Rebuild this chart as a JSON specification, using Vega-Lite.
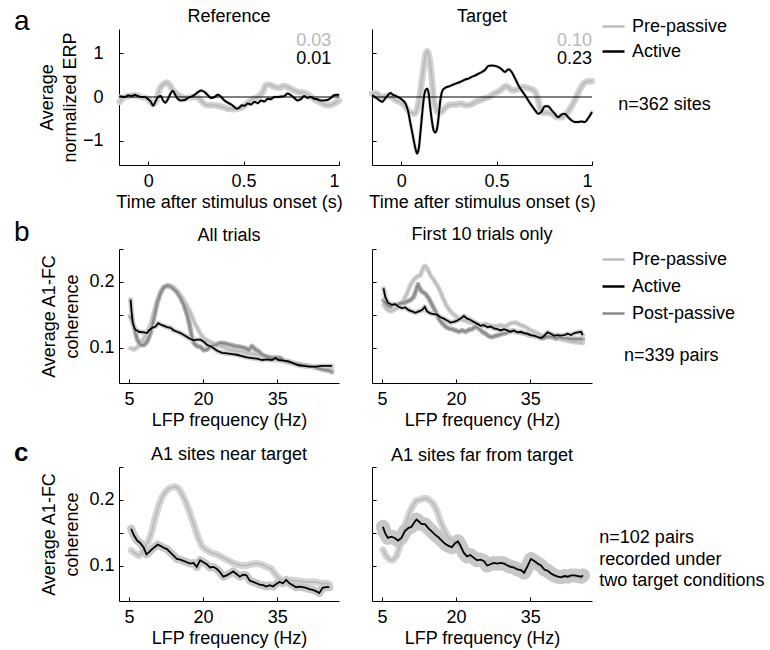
{
"$schema":"https://vega.github.io/schema/vega-lite/v6.json",
"padding":{"left":13,"top":7,"right":5,"bottom":2},
"bounds":"flush",
"columns":2,
"spacing":{"row":84,"column":33},
"resolve":{"scale":{"color":"independent"},"legend":{"color":"independent"}},
"config":{
 "font":"Liberation Sans",
 "view":{"stroke":null},
 "axis":{"grid":false,"domainColor":"#000","tickColor":"#000","labelColor":"#000","titleColor":"#000","labelFontSize":18,"titleFontSize":18,"titleFontWeight":"normal","tickSize":-4,"labelPadding":11,"titlePadding":3,"titleLineHeight":23,"domainWidth":1,"tickWidth":1},
 "title":{"fontSize":18,"fontWeight":"normal","color":"#000","offset":6,"baseline":"alphabetic","frame":"group"},
 "text":{"fontSize":18,"color":"#000"}
},
"datasets":{
"aRef":[
{"c":"Pre-passive","x":-0.150,"y":-0.11},{"c":"Pre-passive","x":-0.130,"y":-0.02},{"c":"Pre-passive","x":-0.104,"y":0.02},{"c":"Pre-passive","x":-0.070,"y":0.04},{"c":"Pre-passive","x":-0.035,"y":0},{"c":"Pre-passive","x":0,"y":-0.05},{"c":"Pre-passive","x":0.026,"y":-0.17},{"c":"Pre-passive","x":0.043,"y":-0.08},{"c":"Pre-passive","x":0.061,"y":0.19},{"c":"Pre-passive","x":0.078,"y":0.28},{"c":"Pre-passive","x":0.096,"y":0.33},{"c":"Pre-passive","x":0.113,"y":0.27},{"c":"Pre-passive","x":0.130,"y":0.15},{"c":"Pre-passive","x":0.148,"y":0.08},{"c":"Pre-passive","x":0.174,"y":0},{"c":"Pre-passive","x":0.200,"y":-0.02},{"c":"Pre-passive","x":0.226,"y":0},{"c":"Pre-passive","x":0.252,"y":0},{"c":"Pre-passive","x":0.270,"y":-0.05},{"c":"Pre-passive","x":0.287,"y":-0.13},{"c":"Pre-passive","x":0.313,"y":-0.19},{"c":"Pre-passive","x":0.339,"y":-0.19},{"c":"Pre-passive","x":0.365,"y":-0.2},{"c":"Pre-passive","x":0.391,"y":-0.23},{"c":"Pre-passive","x":0.417,"y":-0.27},{"c":"Pre-passive","x":0.443,"y":-0.28},{"c":"Pre-passive","x":0.470,"y":-0.27},{"c":"Pre-passive","x":0.496,"y":-0.23},{"c":"Pre-passive","x":0.522,"y":-0.13},{"c":"Pre-passive","x":0.548,"y":-0.05},{"c":"Pre-passive","x":0.574,"y":0},{"c":"Pre-passive","x":0.600,"y":0.11},{"c":"Pre-passive","x":0.617,"y":0.27},{"c":"Pre-passive","x":0.635,"y":0.28},{"c":"Pre-passive","x":0.661,"y":0.23},{"c":"Pre-passive","x":0.687,"y":0.21},{"c":"Pre-passive","x":0.713,"y":0.25},{"c":"Pre-passive","x":0.739,"y":0.21},{"c":"Pre-passive","x":0.765,"y":0.15},{"c":"Pre-passive","x":0.791,"y":0.11},{"c":"Pre-passive","x":0.817,"y":0.10},{"c":"Pre-passive","x":0.843,"y":0.04},{"c":"Pre-passive","x":0.870,"y":-0.05},{"c":"Pre-passive","x":0.896,"y":-0.11},{"c":"Pre-passive","x":0.922,"y":-0.17},{"c":"Pre-passive","x":0.948,"y":-0.19},{"c":"Pre-passive","x":0.974,"y":-0.15},{"c":"Pre-passive","x":1.0,"y":-0.08},
{"c":"Active","x":-0.150,"y":0.015},{"c":"Active","x":-0.122,"y":0},{"c":"Active","x":-0.104,"y":0.04},{"c":"Active","x":-0.087,"y":0.02},{"c":"Active","x":-0.070,"y":0.05},{"c":"Active","x":-0.052,"y":0.02},{"c":"Active","x":-0.035,"y":0},{"c":"Active","x":-0.017,"y":0},{"c":"Active","x":0,"y":-0.05},{"c":"Active","x":0.014,"y":-0.11},{"c":"Active","x":0.026,"y":-0.2},{"c":"Active","x":0.038,"y":-0.1},{"c":"Active","x":0.052,"y":0},{"c":"Active","x":0.066,"y":0.02},{"c":"Active","x":0.078,"y":-0.08},{"c":"Active","x":0.090,"y":-0.13},{"c":"Active","x":0.104,"y":-0.04},{"c":"Active","x":0.117,"y":0.08},{"c":"Active","x":0.129,"y":0.14},{"c":"Active","x":0.143,"y":0.04},{"c":"Active","x":0.157,"y":-0.05},{"c":"Active","x":0.174,"y":-0.08},{"c":"Active","x":0.191,"y":-0.07},{"c":"Active","x":0.209,"y":-0.02},{"c":"Active","x":0.226,"y":0.01},{"c":"Active","x":0.243,"y":0.05},{"c":"Active","x":0.261,"y":0.11},{"c":"Active","x":0.278,"y":0.15},{"c":"Active","x":0.296,"y":0.11},{"c":"Active","x":0.313,"y":0.04},{"c":"Active","x":0.330,"y":-0.02},{"c":"Active","x":0.348,"y":0},{"c":"Active","x":0.365,"y":0.05},{"c":"Active","x":0.383,"y":0},{"c":"Active","x":0.400,"y":-0.08},{"c":"Active","x":0.417,"y":-0.13},{"c":"Active","x":0.435,"y":-0.17},{"c":"Active","x":0.452,"y":-0.23},{"c":"Active","x":0.466,"y":-0.27},{"c":"Active","x":0.478,"y":-0.24},{"c":"Active","x":0.490,"y":-0.19},{"c":"Active","x":0.504,"y":-0.2},{"c":"Active","x":0.522,"y":-0.15},{"c":"Active","x":0.539,"y":-0.17},{"c":"Active","x":0.557,"y":-0.11},{"c":"Active","x":0.574,"y":-0.14},{"c":"Active","x":0.591,"y":-0.08},{"c":"Active","x":0.609,"y":-0.1},{"c":"Active","x":0.626,"y":-0.04},{"c":"Active","x":0.643,"y":-0.05},{"c":"Active","x":0.661,"y":0},{"c":"Active","x":0.678,"y":0},{"c":"Active","x":0.696,"y":0.01},{"c":"Active","x":0.713,"y":0.02},{"c":"Active","x":0.730,"y":0.08},{"c":"Active","x":0.748,"y":0.04},{"c":"Active","x":0.765,"y":-0.02},{"c":"Active","x":0.783,"y":-0.08},{"c":"Active","x":0.800,"y":-0.05},{"c":"Active","x":0.817,"y":0.02},{"c":"Active","x":0.835,"y":-0.02},{"c":"Active","x":0.852,"y":0},{"c":"Active","x":0.870,"y":-0.04},{"c":"Active","x":0.887,"y":-0.05},{"c":"Active","x":0.904,"y":-0.08},{"c":"Active","x":0.922,"y":-0.08},{"c":"Active","x":0.939,"y":-0.07},{"c":"Active","x":0.957,"y":-0.02},{"c":"Active","x":0.974,"y":0.04},{"c":"Active","x":0.991,"y":0.05},{"c":"Active","x":1.0,"y":0.04}
],
"aTgt":[
{"c":"Pre-passive","x":-0.153,"y":0.08},{"c":"Pre-passive","x":-0.130,"y":0.08},{"c":"Pre-passive","x":-0.104,"y":0},{"c":"Pre-passive","x":-0.078,"y":0.02},{"c":"Pre-passive","x":-0.052,"y":0},{"c":"Pre-passive","x":-0.026,"y":-0.08},{"c":"Pre-passive","x":0,"y":-0.13},{"c":"Pre-passive","x":0.017,"y":-0.19},{"c":"Pre-passive","x":0.035,"y":-0.3},{"c":"Pre-passive","x":0.052,"y":-0.36},{"c":"Pre-passive","x":0.070,"y":-0.38},{"c":"Pre-passive","x":0.082,"y":-0.3},{"c":"Pre-passive","x":0.092,"y":-0.11},{"c":"Pre-passive","x":0.104,"y":0.23},{"c":"Pre-passive","x":0.117,"y":0.65},{"c":"Pre-passive","x":0.127,"y":0.95},{"c":"Pre-passive","x":0.136,"y":1.04},{"c":"Pre-passive","x":0.144,"y":0.96},{"c":"Pre-passive","x":0.153,"y":0.72},{"c":"Pre-passive","x":0.162,"y":0.34},{"c":"Pre-passive","x":0.170,"y":-0.04},{"c":"Pre-passive","x":0.183,"y":-0.27},{"c":"Pre-passive","x":0.197,"y":-0.36},{"c":"Pre-passive","x":0.214,"y":-0.33},{"c":"Pre-passive","x":0.235,"y":-0.23},{"c":"Pre-passive","x":0.261,"y":-0.17},{"c":"Pre-passive","x":0.287,"y":-0.17},{"c":"Pre-passive","x":0.313,"y":-0.15},{"c":"Pre-passive","x":0.339,"y":-0.19},{"c":"Pre-passive","x":0.365,"y":-0.17},{"c":"Pre-passive","x":0.383,"y":-0.13},{"c":"Pre-passive","x":0.409,"y":-0.08},{"c":"Pre-passive","x":0.435,"y":-0.04},{"c":"Pre-passive","x":0.461,"y":0},{"c":"Pre-passive","x":0.487,"y":0.08},{"c":"Pre-passive","x":0.513,"y":0.13},{"c":"Pre-passive","x":0.530,"y":0.19},{"c":"Pre-passive","x":0.548,"y":0.25},{"c":"Pre-passive","x":0.565,"y":0.21},{"c":"Pre-passive","x":0.583,"y":0.15},{"c":"Pre-passive","x":0.609,"y":0.17},{"c":"Pre-passive","x":0.635,"y":0.23},{"c":"Pre-passive","x":0.661,"y":0.21},{"c":"Pre-passive","x":0.687,"y":0.17},{"c":"Pre-passive","x":0.704,"y":0.11},{"c":"Pre-passive","x":0.718,"y":-0.08},{"c":"Pre-passive","x":0.730,"y":-0.27},{"c":"Pre-passive","x":0.748,"y":-0.36},{"c":"Pre-passive","x":0.770,"y":-0.36},{"c":"Pre-passive","x":0.791,"y":-0.38},{"c":"Pre-passive","x":0.817,"y":-0.46},{"c":"Pre-passive","x":0.843,"y":-0.46},{"c":"Pre-passive","x":0.870,"y":-0.36},{"c":"Pre-passive","x":0.896,"y":-0.19},{"c":"Pre-passive","x":0.922,"y":0.04},{"c":"Pre-passive","x":0.944,"y":0.23},{"c":"Pre-passive","x":0.965,"y":0.34},{"c":"Pre-passive","x":0.983,"y":0.36},{"c":"Pre-passive","x":1.0,"y":0.36},
{"c":"Active","x":-0.153,"y":0.04},{"c":"Active","x":-0.130,"y":-0.02},{"c":"Active","x":-0.113,"y":-0.08},{"c":"Active","x":-0.099,"y":-0.11},{"c":"Active","x":-0.087,"y":-0.05},{"c":"Active","x":-0.070,"y":0.04},{"c":"Active","x":-0.057,"y":0.09},{"c":"Active","x":-0.043,"y":0.05},{"c":"Active","x":-0.026,"y":0.02},{"c":"Active","x":-0.009,"y":-0.02},{"c":"Active","x":0.009,"y":-0.08},{"c":"Active","x":0.023,"y":-0.15},{"c":"Active","x":0.035,"y":-0.3},{"c":"Active","x":0.047,"y":-0.57},{"c":"Active","x":0.061,"y":-0.88},{"c":"Active","x":0.075,"y":-1.18},{"c":"Active","x":0.083,"y":-1.29},{"c":"Active","x":0.092,"y":-1.18},{"c":"Active","x":0.101,"y":-0.8},{"c":"Active","x":0.110,"y":-0.38},{"c":"Active","x":0.118,"y":-0.04},{"c":"Active","x":0.127,"y":0.15},{"c":"Active","x":0.136,"y":0.19},{"c":"Active","x":0.144,"y":0.08},{"c":"Active","x":0.153,"y":-0.27},{"c":"Active","x":0.162,"y":-0.57},{"c":"Active","x":0.170,"y":-0.76},{"c":"Active","x":0.179,"y":-0.81},{"c":"Active","x":0.188,"y":-0.72},{"c":"Active","x":0.197,"y":-0.42},{"c":"Active","x":0.205,"y":-0.08},{"c":"Active","x":0.217,"y":0.15},{"c":"Active","x":0.231,"y":0.21},{"c":"Active","x":0.249,"y":0.24},{"c":"Active","x":0.266,"y":0.27},{"c":"Active","x":0.283,"y":0.30},{"c":"Active","x":0.301,"y":0.33},{"c":"Active","x":0.318,"y":0.36},{"c":"Active","x":0.336,"y":0.40},{"c":"Active","x":0.353,"y":0.42},{"c":"Active","x":0.370,"y":0.46},{"c":"Active","x":0.388,"y":0.49},{"c":"Active","x":0.405,"y":0.53},{"c":"Active","x":0.423,"y":0.57},{"c":"Active","x":0.440,"y":0.62},{"c":"Active","x":0.457,"y":0.71},{"c":"Active","x":0.475,"y":0.72},{"c":"Active","x":0.492,"y":0.71},{"c":"Active","x":0.510,"y":0.68},{"c":"Active","x":0.527,"y":0.63},{"c":"Active","x":0.544,"y":0.57},{"c":"Active","x":0.562,"y":0.63},{"c":"Active","x":0.579,"y":0.57},{"c":"Active","x":0.597,"y":0.42},{"c":"Active","x":0.614,"y":0.27},{"c":"Active","x":0.631,"y":0.15},{"c":"Active","x":0.649,"y":0.04},{"c":"Active","x":0.666,"y":-0.08},{"c":"Active","x":0.683,"y":-0.19},{"c":"Active","x":0.701,"y":-0.3},{"c":"Active","x":0.718,"y":-0.38},{"c":"Active","x":0.736,"y":-0.33},{"c":"Active","x":0.753,"y":-0.21},{"c":"Active","x":0.770,"y":-0.21},{"c":"Active","x":0.788,"y":-0.3},{"c":"Active","x":0.805,"y":-0.38},{"c":"Active","x":0.823,"y":-0.46},{"c":"Active","x":0.840,"y":-0.4},{"c":"Active","x":0.857,"y":-0.38},{"c":"Active","x":0.875,"y":-0.46},{"c":"Active","x":0.892,"y":-0.53},{"c":"Active","x":0.910,"y":-0.57},{"c":"Active","x":0.927,"y":-0.57},{"c":"Active","x":0.944,"y":-0.56},{"c":"Active","x":0.962,"y":-0.57},{"c":"Active","x":0.979,"y":-0.49},{"c":"Active","x":1.0,"y":-0.34}
],
"bAll":[
{"c":"Pre-passive","x":5.34,"y":0.099},{"c":"Pre-passive","x":6.01,"y":0.097},{"c":"Pre-passive","x":6.68,"y":0.100},{"c":"Pre-passive","x":7.36,"y":0.107},{"c":"Pre-passive","x":8.03,"y":0.114},{"c":"Pre-passive","x":8.70,"y":0.123},{"c":"Pre-passive","x":9.38,"y":0.135},{"c":"Pre-passive","x":10.05,"y":0.153},{"c":"Pre-passive","x":10.72,"y":0.170},{"c":"Pre-passive","x":11.40,"y":0.184},{"c":"Pre-passive","x":12.07,"y":0.192},{"c":"Pre-passive","x":12.74,"y":0.195},{"c":"Pre-passive","x":13.42,"y":0.194},{"c":"Pre-passive","x":14.09,"y":0.191},{"c":"Pre-passive","x":14.76,"y":0.186},{"c":"Pre-passive","x":15.44,"y":0.179},{"c":"Pre-passive","x":16.11,"y":0.172},{"c":"Pre-passive","x":16.78,"y":0.163},{"c":"Pre-passive","x":17.46,"y":0.153},{"c":"Pre-passive","x":18.13,"y":0.140},{"c":"Pre-passive","x":18.80,"y":0.130},{"c":"Pre-passive","x":19.48,"y":0.121},{"c":"Pre-passive","x":20.15,"y":0.114},{"c":"Pre-passive","x":20.82,"y":0.111},{"c":"Pre-passive","x":21.84,"y":0.107},{"c":"Pre-passive","x":22.85,"y":0.104},{"c":"Pre-passive","x":23.86,"y":0.102},{"c":"Pre-passive","x":25.20,"y":0.097},{"c":"Pre-passive","x":26.55,"y":0.095},{"c":"Pre-passive","x":27.90,"y":0.094},{"c":"Pre-passive","x":29.24,"y":0.091},{"c":"Pre-passive","x":30.59,"y":0.090},{"c":"Pre-passive","x":31.94,"y":0.087},{"c":"Pre-passive","x":33.28,"y":0.084},{"c":"Pre-passive","x":34.63,"y":0.081},{"c":"Pre-passive","x":35.98,"y":0.080},{"c":"Pre-passive","x":37.32,"y":0.079},{"c":"Pre-passive","x":38.67,"y":0.076},{"c":"Pre-passive","x":40.02,"y":0.074},{"c":"Pre-passive","x":41.36,"y":0.072},{"c":"Pre-passive","x":42.71,"y":0.070},{"c":"Pre-passive","x":44.06,"y":0.068},{"c":"Pre-passive","x":46.08,"y":0.066},
{"c":"Post-passive","x":5.34,"y":0.148},{"c":"Post-passive","x":6.01,"y":0.132},{"c":"Post-passive","x":6.68,"y":0.112},{"c":"Post-passive","x":7.36,"y":0.104},{"c":"Post-passive","x":8.03,"y":0.104},{"c":"Post-passive","x":8.70,"y":0.109},{"c":"Post-passive","x":9.38,"y":0.122},{"c":"Post-passive","x":10.05,"y":0.145},{"c":"Post-passive","x":10.72,"y":0.168},{"c":"Post-passive","x":11.40,"y":0.183},{"c":"Post-passive","x":12.07,"y":0.192},{"c":"Post-passive","x":12.74,"y":0.194},{"c":"Post-passive","x":13.42,"y":0.193},{"c":"Post-passive","x":14.09,"y":0.189},{"c":"Post-passive","x":14.76,"y":0.184},{"c":"Post-passive","x":15.44,"y":0.176},{"c":"Post-passive","x":16.11,"y":0.165},{"c":"Post-passive","x":16.78,"y":0.150},{"c":"Post-passive","x":17.26,"y":0.135},{"c":"Post-passive","x":17.66,"y":0.119},{"c":"Post-passive","x":18.13,"y":0.107},{"c":"Post-passive","x":18.80,"y":0.102},{"c":"Post-passive","x":19.48,"y":0.101},{"c":"Post-passive","x":20.15,"y":0.096},{"c":"Post-passive","x":20.82,"y":0.097},{"c":"Post-passive","x":21.50,"y":0.102},{"c":"Post-passive","x":22.51,"y":0.104},{"c":"Post-passive","x":23.52,"y":0.107},{"c":"Post-passive","x":24.53,"y":0.106},{"c":"Post-passive","x":25.54,"y":0.104},{"c":"Post-passive","x":26.55,"y":0.102},{"c":"Post-passive","x":27.56,"y":0.101},{"c":"Post-passive","x":28.57,"y":0.099},{"c":"Post-passive","x":29.24,"y":0.096},{"c":"Post-passive","x":29.92,"y":0.102},{"c":"Post-passive","x":30.59,"y":0.097},{"c":"Post-passive","x":31.26,"y":0.094},{"c":"Post-passive","x":31.94,"y":0.089},{"c":"Post-passive","x":32.95,"y":0.086},{"c":"Post-passive","x":33.96,"y":0.084},{"c":"Post-passive","x":34.63,"y":0.085},{"c":"Post-passive","x":35.64,"y":0.084},{"c":"Post-passive","x":36.65,"y":0.079},{"c":"Post-passive","x":37.66,"y":0.077},{"c":"Post-passive","x":38.67,"y":0.075},{"c":"Post-passive","x":40.02,"y":0.073},{"c":"Post-passive","x":41.36,"y":0.072},{"c":"Post-passive","x":42.71,"y":0.070},{"c":"Post-passive","x":44.06,"y":0.067},{"c":"Post-passive","x":45.40,"y":0.065},{"c":"Post-passive","x":46.08,"y":0.063},
{"c":"Active","x":5.34,"y":0.173},{"c":"Active","x":5.54,"y":0.155},{"c":"Active","x":5.81,"y":0.137},{"c":"Active","x":6.21,"y":0.128},{"c":"Active","x":7.02,"y":0.124},{"c":"Active","x":8.03,"y":0.123},{"c":"Active","x":8.70,"y":0.122},{"c":"Active","x":9.04,"y":0.126},{"c":"Active","x":9.71,"y":0.130},{"c":"Active","x":10.39,"y":0.132},{"c":"Active","x":10.93,"y":0.137},{"c":"Active","x":11.40,"y":0.135},{"c":"Active","x":12.07,"y":0.133},{"c":"Active","x":12.74,"y":0.131},{"c":"Active","x":13.42,"y":0.130},{"c":"Active","x":14.09,"y":0.126},{"c":"Active","x":14.76,"y":0.124},{"c":"Active","x":15.44,"y":0.122},{"c":"Active","x":16.11,"y":0.119},{"c":"Active","x":16.78,"y":0.116},{"c":"Active","x":17.46,"y":0.113},{"c":"Active","x":18.13,"y":0.111},{"c":"Active","x":18.80,"y":0.112},{"c":"Active","x":19.48,"y":0.112},{"c":"Active","x":20.15,"y":0.109},{"c":"Active","x":20.82,"y":0.104},{"c":"Active","x":21.50,"y":0.102},{"c":"Active","x":22.17,"y":0.099},{"c":"Active","x":22.85,"y":0.095},{"c":"Active","x":23.86,"y":0.092},{"c":"Active","x":24.87,"y":0.091},{"c":"Active","x":25.88,"y":0.090},{"c":"Active","x":26.89,"y":0.089},{"c":"Active","x":27.90,"y":0.087},{"c":"Active","x":28.91,"y":0.085},{"c":"Active","x":29.92,"y":0.084},{"c":"Active","x":30.93,"y":0.083},{"c":"Active","x":31.94,"y":0.081},{"c":"Active","x":32.95,"y":0.082},{"c":"Active","x":33.96,"y":0.081},{"c":"Active","x":34.63,"y":0.084},{"c":"Active","x":35.30,"y":0.081},{"c":"Active","x":36.31,"y":0.080},{"c":"Active","x":37.32,"y":0.079},{"c":"Active","x":38.33,"y":0.076},{"c":"Active","x":39.34,"y":0.073},{"c":"Active","x":40.35,"y":0.072},{"c":"Active","x":41.36,"y":0.071},{"c":"Active","x":42.71,"y":0.071},{"c":"Active","x":44.06,"y":0.072},{"c":"Active","x":46.08,"y":0.072}
],
"bFirst":[
{"c":"Pre-passive","x":5.34,"y":0.165},{"c":"Pre-passive","x":6.02,"y":0.158},{"c":"Pre-passive","x":6.69,"y":0.155},{"c":"Pre-passive","x":7.37,"y":0.157},{"c":"Pre-passive","x":8.05,"y":0.160},{"c":"Pre-passive","x":8.72,"y":0.165},{"c":"Pre-passive","x":9.40,"y":0.172},{"c":"Pre-passive","x":10.08,"y":0.182},{"c":"Pre-passive","x":10.75,"y":0.195},{"c":"Pre-passive","x":11.43,"y":0.203},{"c":"Pre-passive","x":12.11,"y":0.208},{"c":"Pre-passive","x":12.79,"y":0.210},{"c":"Pre-passive","x":13.46,"y":0.223},{"c":"Pre-passive","x":13.80,"y":0.224},{"c":"Pre-passive","x":14.34,"y":0.218},{"c":"Pre-passive","x":14.82,"y":0.210},{"c":"Pre-passive","x":15.49,"y":0.203},{"c":"Pre-passive","x":16.17,"y":0.195},{"c":"Pre-passive","x":16.85,"y":0.185},{"c":"Pre-passive","x":17.53,"y":0.172},{"c":"Pre-passive","x":18.20,"y":0.162},{"c":"Pre-passive","x":18.88,"y":0.155},{"c":"Pre-passive","x":19.56,"y":0.150},{"c":"Pre-passive","x":20.23,"y":0.146},{"c":"Pre-passive","x":20.91,"y":0.143},{"c":"Pre-passive","x":21.93,"y":0.141},{"c":"Pre-passive","x":22.94,"y":0.138},{"c":"Pre-passive","x":23.96,"y":0.137},{"c":"Pre-passive","x":24.97,"y":0.134},{"c":"Pre-passive","x":25.99,"y":0.136},{"c":"Pre-passive","x":27.00,"y":0.133},{"c":"Pre-passive","x":28.02,"y":0.132},{"c":"Pre-passive","x":29.04,"y":0.134},{"c":"Pre-passive","x":30.05,"y":0.132},{"c":"Pre-passive","x":31.07,"y":0.137},{"c":"Pre-passive","x":32.08,"y":0.138},{"c":"Pre-passive","x":33.10,"y":0.134},{"c":"Pre-passive","x":34.11,"y":0.131},{"c":"Pre-passive","x":35.13,"y":0.126},{"c":"Pre-passive","x":36.14,"y":0.123},{"c":"Pre-passive","x":37.16,"y":0.119},{"c":"Pre-passive","x":38.18,"y":0.117},{"c":"Pre-passive","x":39.19,"y":0.116},{"c":"Pre-passive","x":40.21,"y":0.114},{"c":"Pre-passive","x":41.22,"y":0.113},{"c":"Pre-passive","x":42.24,"y":0.111},{"c":"Pre-passive","x":43.25,"y":0.109},{"c":"Pre-passive","x":44.27,"y":0.108},{"c":"Pre-passive","x":45.62,"y":0.107},
{"c":"Post-passive","x":5.34,"y":0.172},{"c":"Post-passive","x":6.02,"y":0.165},{"c":"Post-passive","x":6.69,"y":0.162},{"c":"Post-passive","x":7.37,"y":0.166},{"c":"Post-passive","x":8.05,"y":0.165},{"c":"Post-passive","x":8.72,"y":0.167},{"c":"Post-passive","x":9.40,"y":0.168},{"c":"Post-passive","x":10.08,"y":0.170},{"c":"Post-passive","x":10.75,"y":0.172},{"c":"Post-passive","x":11.43,"y":0.177},{"c":"Post-passive","x":11.91,"y":0.187},{"c":"Post-passive","x":12.31,"y":0.196},{"c":"Post-passive","x":12.65,"y":0.190},{"c":"Post-passive","x":13.12,"y":0.185},{"c":"Post-passive","x":13.80,"y":0.182},{"c":"Post-passive","x":14.48,"y":0.175},{"c":"Post-passive","x":15.16,"y":0.165},{"c":"Post-passive","x":15.83,"y":0.155},{"c":"Post-passive","x":16.51,"y":0.144},{"c":"Post-passive","x":17.19,"y":0.137},{"c":"Post-passive","x":17.86,"y":0.132},{"c":"Post-passive","x":18.54,"y":0.129},{"c":"Post-passive","x":19.22,"y":0.128},{"c":"Post-passive","x":19.90,"y":0.126},{"c":"Post-passive","x":20.57,"y":0.124},{"c":"Post-passive","x":21.25,"y":0.126},{"c":"Post-passive","x":21.93,"y":0.124},{"c":"Post-passive","x":22.60,"y":0.127},{"c":"Post-passive","x":23.28,"y":0.128},{"c":"Post-passive","x":23.96,"y":0.132},{"c":"Post-passive","x":24.63,"y":0.129},{"c":"Post-passive","x":25.31,"y":0.124},{"c":"Post-passive","x":25.99,"y":0.121},{"c":"Post-passive","x":26.67,"y":0.117},{"c":"Post-passive","x":27.34,"y":0.116},{"c":"Post-passive","x":28.02,"y":0.118},{"c":"Post-passive","x":28.70,"y":0.119},{"c":"Post-passive","x":29.37,"y":0.121},{"c":"Post-passive","x":30.05,"y":0.122},{"c":"Post-passive","x":30.73,"y":0.124},{"c":"Post-passive","x":31.40,"y":0.126},{"c":"Post-passive","x":32.08,"y":0.124},{"c":"Post-passive","x":32.76,"y":0.123},{"c":"Post-passive","x":33.44,"y":0.122},{"c":"Post-passive","x":34.11,"y":0.121},{"c":"Post-passive","x":34.79,"y":0.119},{"c":"Post-passive","x":35.47,"y":0.118},{"c":"Post-passive","x":36.14,"y":0.117},{"c":"Post-passive","x":36.82,"y":0.116},{"c":"Post-passive","x":37.50,"y":0.114},{"c":"Post-passive","x":38.18,"y":0.116},{"c":"Post-passive","x":38.85,"y":0.117},{"c":"Post-passive","x":39.53,"y":0.116},{"c":"Post-passive","x":40.21,"y":0.114},{"c":"Post-passive","x":40.88,"y":0.116},{"c":"Post-passive","x":41.56,"y":0.114},{"c":"Post-passive","x":42.24,"y":0.114},{"c":"Post-passive","x":43.25,"y":0.113},{"c":"Post-passive","x":44.27,"y":0.113},{"c":"Post-passive","x":45.62,"y":0.113},
{"c":"Active","x":5.34,"y":0.190},{"c":"Active","x":5.68,"y":0.177},{"c":"Active","x":6.22,"y":0.168},{"c":"Active","x":7.03,"y":0.165},{"c":"Active","x":7.71,"y":0.166},{"c":"Active","x":8.39,"y":0.162},{"c":"Active","x":9.06,"y":0.160},{"c":"Active","x":9.74,"y":0.161},{"c":"Active","x":10.42,"y":0.157},{"c":"Active","x":11.09,"y":0.155},{"c":"Active","x":11.77,"y":0.153},{"c":"Active","x":12.45,"y":0.155},{"c":"Active","x":13.12,"y":0.157},{"c":"Active","x":13.67,"y":0.162},{"c":"Active","x":14.14,"y":0.155},{"c":"Active","x":14.82,"y":0.152},{"c":"Active","x":15.49,"y":0.151},{"c":"Active","x":16.17,"y":0.150},{"c":"Active","x":16.85,"y":0.146},{"c":"Active","x":17.53,"y":0.144},{"c":"Active","x":18.20,"y":0.141},{"c":"Active","x":18.88,"y":0.138},{"c":"Active","x":19.56,"y":0.139},{"c":"Active","x":20.23,"y":0.141},{"c":"Active","x":20.91,"y":0.144},{"c":"Active","x":21.59,"y":0.148},{"c":"Active","x":22.26,"y":0.144},{"c":"Active","x":22.94,"y":0.142},{"c":"Active","x":23.62,"y":0.139},{"c":"Active","x":24.30,"y":0.136},{"c":"Active","x":24.97,"y":0.133},{"c":"Active","x":25.65,"y":0.134},{"c":"Active","x":26.33,"y":0.131},{"c":"Active","x":27.00,"y":0.132},{"c":"Active","x":27.68,"y":0.129},{"c":"Active","x":28.36,"y":0.128},{"c":"Active","x":29.04,"y":0.126},{"c":"Active","x":29.71,"y":0.128},{"c":"Active","x":30.39,"y":0.126},{"c":"Active","x":31.07,"y":0.124},{"c":"Active","x":31.74,"y":0.126},{"c":"Active","x":32.42,"y":0.123},{"c":"Active","x":33.10,"y":0.124},{"c":"Active","x":33.77,"y":0.122},{"c":"Active","x":34.45,"y":0.121},{"c":"Active","x":35.13,"y":0.119},{"c":"Active","x":35.81,"y":0.118},{"c":"Active","x":36.48,"y":0.116},{"c":"Active","x":37.16,"y":0.114},{"c":"Active","x":37.84,"y":0.118},{"c":"Active","x":38.51,"y":0.123},{"c":"Active","x":39.19,"y":0.121},{"c":"Active","x":39.87,"y":0.118},{"c":"Active","x":40.55,"y":0.119},{"c":"Active","x":41.22,"y":0.118},{"c":"Active","x":41.90,"y":0.119},{"c":"Active","x":42.58,"y":0.121},{"c":"Active","x":43.25,"y":0.119},{"c":"Active","x":43.93,"y":0.122},{"c":"Active","x":44.61,"y":0.123},{"c":"Active","x":45.29,"y":0.124},{"c":"Active","x":45.62,"y":0.119}
],
"cNear":[
{"c":"Pre-passive","x":5.47,"y":0.123},{"c":"Pre-passive","x":6.34,"y":0.118},{"c":"Pre-passive","x":7.01,"y":0.115},{"c":"Pre-passive","x":7.68,"y":0.120},{"c":"Pre-passive","x":8.35,"y":0.129},{"c":"Pre-passive","x":9.02,"y":0.138},{"c":"Pre-passive","x":9.69,"y":0.153},{"c":"Pre-passive","x":10.36,"y":0.174},{"c":"Pre-passive","x":11.03,"y":0.191},{"c":"Pre-passive","x":11.70,"y":0.204},{"c":"Pre-passive","x":12.37,"y":0.212},{"c":"Pre-passive","x":13.04,"y":0.217},{"c":"Pre-passive","x":13.71,"y":0.219},{"c":"Pre-passive","x":14.38,"y":0.220},{"c":"Pre-passive","x":15.05,"y":0.217},{"c":"Pre-passive","x":15.72,"y":0.209},{"c":"Pre-passive","x":16.39,"y":0.199},{"c":"Pre-passive","x":17.06,"y":0.186},{"c":"Pre-passive","x":17.73,"y":0.171},{"c":"Pre-passive","x":18.40,"y":0.156},{"c":"Pre-passive","x":19.07,"y":0.141},{"c":"Pre-passive","x":19.74,"y":0.130},{"c":"Pre-passive","x":20.41,"y":0.125},{"c":"Pre-passive","x":21.08,"y":0.122},{"c":"Pre-passive","x":21.74,"y":0.119},{"c":"Pre-passive","x":22.75,"y":0.117},{"c":"Pre-passive","x":23.75,"y":0.113},{"c":"Pre-passive","x":24.76,"y":0.109},{"c":"Pre-passive","x":25.76,"y":0.105},{"c":"Pre-passive","x":26.77,"y":0.102},{"c":"Pre-passive","x":27.77,"y":0.100},{"c":"Pre-passive","x":28.78,"y":0.100},{"c":"Pre-passive","x":29.78,"y":0.102},{"c":"Pre-passive","x":30.79,"y":0.103},{"c":"Pre-passive","x":31.79,"y":0.102},{"c":"Pre-passive","x":32.80,"y":0.098},{"c":"Pre-passive","x":33.80,"y":0.095},{"c":"Pre-passive","x":34.47,"y":0.088},{"c":"Pre-passive","x":35.14,"y":0.082},{"c":"Pre-passive","x":35.81,"y":0.078},{"c":"Pre-passive","x":36.82,"y":0.077},{"c":"Pre-passive","x":37.82,"y":0.078},{"c":"Pre-passive","x":38.82,"y":0.077},{"c":"Pre-passive","x":39.83,"y":0.076},{"c":"Pre-passive","x":40.83,"y":0.075},{"c":"Pre-passive","x":41.84,"y":0.075},{"c":"Pre-passive","x":42.84,"y":0.075},{"c":"Pre-passive","x":43.85,"y":0.073},{"c":"Pre-passive","x":44.85,"y":0.073},{"c":"Pre-passive","x":45.52,"y":0.072},
{"c":"Active","x":5.47,"y":0.156},{"c":"Active","x":6.00,"y":0.146},{"c":"Active","x":6.67,"y":0.138},{"c":"Active","x":7.34,"y":0.134},{"c":"Active","x":8.01,"y":0.127},{"c":"Active","x":8.55,"y":0.117},{"c":"Active","x":9.02,"y":0.120},{"c":"Active","x":9.69,"y":0.125},{"c":"Active","x":10.36,"y":0.129},{"c":"Active","x":10.83,"y":0.132},{"c":"Active","x":11.36,"y":0.130},{"c":"Active","x":12.03,"y":0.127},{"c":"Active","x":12.70,"y":0.125},{"c":"Active","x":13.37,"y":0.120},{"c":"Active","x":14.04,"y":0.115},{"c":"Active","x":14.71,"y":0.110},{"c":"Active","x":15.38,"y":0.109},{"c":"Active","x":16.05,"y":0.107},{"c":"Active","x":16.72,"y":0.105},{"c":"Active","x":17.39,"y":0.103},{"c":"Active","x":18.06,"y":0.104},{"c":"Active","x":18.73,"y":0.098},{"c":"Active","x":19.40,"y":0.108},{"c":"Active","x":20.07,"y":0.105},{"c":"Active","x":20.74,"y":0.102},{"c":"Active","x":21.41,"y":0.097},{"c":"Active","x":22.08,"y":0.098},{"c":"Active","x":22.75,"y":0.095},{"c":"Active","x":23.42,"y":0.090},{"c":"Active","x":24.09,"y":0.083},{"c":"Active","x":24.76,"y":0.085},{"c":"Active","x":25.43,"y":0.088},{"c":"Active","x":26.10,"y":0.091},{"c":"Active","x":26.77,"y":0.087},{"c":"Active","x":27.44,"y":0.083},{"c":"Active","x":28.11,"y":0.086},{"c":"Active","x":28.78,"y":0.085},{"c":"Active","x":29.45,"y":0.077},{"c":"Active","x":30.12,"y":0.075},{"c":"Active","x":30.79,"y":0.073},{"c":"Active","x":31.46,"y":0.071},{"c":"Active","x":32.13,"y":0.070},{"c":"Active","x":32.80,"y":0.068},{"c":"Active","x":33.47,"y":0.070},{"c":"Active","x":34.14,"y":0.068},{"c":"Active","x":34.81,"y":0.072},{"c":"Active","x":35.48,"y":0.075},{"c":"Active","x":36.15,"y":0.073},{"c":"Active","x":36.82,"y":0.078},{"c":"Active","x":37.48,"y":0.073},{"c":"Active","x":38.15,"y":0.070},{"c":"Active","x":38.82,"y":0.067},{"c":"Active","x":39.49,"y":0.068},{"c":"Active","x":40.16,"y":0.067},{"c":"Active","x":40.83,"y":0.066},{"c":"Active","x":41.50,"y":0.064},{"c":"Active","x":42.17,"y":0.063},{"c":"Active","x":42.84,"y":0.061},{"c":"Active","x":43.51,"y":0.058},{"c":"Active","x":44.18,"y":0.066},{"c":"Active","x":44.85,"y":0.067},{"c":"Active","x":45.52,"y":0.067}
],
"cFar":[
{"c":"Pre-passive","x":5.20,"y":0.124},{"c":"Pre-passive","x":5.88,"y":0.114},{"c":"Pre-passive","x":6.56,"y":0.109},{"c":"Pre-passive","x":7.24,"y":0.108},{"c":"Pre-passive","x":7.93,"y":0.114},{"c":"Pre-passive","x":8.61,"y":0.129},{"c":"Pre-passive","x":9.29,"y":0.149},{"c":"Pre-passive","x":9.97,"y":0.167},{"c":"Pre-passive","x":10.65,"y":0.182},{"c":"Pre-passive","x":11.33,"y":0.192},{"c":"Pre-passive","x":12.01,"y":0.199},{"c":"Pre-passive","x":12.69,"y":0.200},{"c":"Pre-passive","x":13.37,"y":0.202},{"c":"Pre-passive","x":14.05,"y":0.202},{"c":"Pre-passive","x":14.73,"y":0.199},{"c":"Pre-passive","x":15.41,"y":0.194},{"c":"Pre-passive","x":16.09,"y":0.184},{"c":"Pre-passive","x":16.77,"y":0.169},{"c":"Pre-passive","x":17.45,"y":0.157},{"c":"Pre-passive","x":18.13,"y":0.147},{"c":"Pre-passive","x":18.81,"y":0.140},{"c":"Pre-passive","x":19.49,"y":0.137},{"c":"Pre-passive","x":20.17,"y":0.132},{"c":"Pre-passive","x":20.85,"y":0.125},{"c":"Pre-passive","x":21.53,"y":0.119},{"c":"Pre-passive","x":22.55,"y":0.113},{"c":"Pre-passive","x":23.57,"y":0.110},{"c":"Pre-passive","x":24.59,"y":0.109},{"c":"Pre-passive","x":25.61,"y":0.107},{"c":"Pre-passive","x":26.63,"y":0.107},{"c":"Pre-passive","x":27.65,"y":0.105},{"c":"Pre-passive","x":28.67,"y":0.104},{"c":"Pre-passive","x":29.69,"y":0.104},{"c":"Pre-passive","x":30.71,"y":0.102},{"c":"Pre-passive","x":31.73,"y":0.099},{"c":"Pre-passive","x":32.76,"y":0.097},{"c":"Pre-passive","x":33.78,"y":0.094},{"c":"Pre-passive","x":34.80,"y":0.099},{"c":"Pre-passive","x":35.48,"y":0.103},{"c":"Pre-passive","x":36.50,"y":0.100},{"c":"Pre-passive","x":37.52,"y":0.095},{"c":"Pre-passive","x":38.54,"y":0.090},{"c":"Pre-passive","x":39.56,"y":0.087},{"c":"Pre-passive","x":40.58,"y":0.084},{"c":"Pre-passive","x":41.60,"y":0.083},{"c":"Pre-passive","x":42.62,"y":0.083},{"c":"Pre-passive","x":43.64,"y":0.082},{"c":"Pre-passive","x":44.66,"y":0.082},{"c":"Pre-passive","x":45.68,"y":0.080},
{"c":"Active","x":5.20,"y":0.159},{"c":"Active","x":5.68,"y":0.149},{"c":"Active","x":6.22,"y":0.142},{"c":"Active","x":6.90,"y":0.144},{"c":"Active","x":7.59,"y":0.142},{"c":"Active","x":8.27,"y":0.138},{"c":"Active","x":8.95,"y":0.142},{"c":"Active","x":9.63,"y":0.152},{"c":"Active","x":10.31,"y":0.157},{"c":"Active","x":10.99,"y":0.159},{"c":"Active","x":11.67,"y":0.167},{"c":"Active","x":12.01,"y":0.170},{"c":"Active","x":12.48,"y":0.167},{"c":"Active","x":13.03,"y":0.163},{"c":"Active","x":13.71,"y":0.163},{"c":"Active","x":14.39,"y":0.157},{"c":"Active","x":15.07,"y":0.152},{"c":"Active","x":15.75,"y":0.147},{"c":"Active","x":16.43,"y":0.143},{"c":"Active","x":17.11,"y":0.138},{"c":"Active","x":17.79,"y":0.133},{"c":"Active","x":18.47,"y":0.130},{"c":"Active","x":19.15,"y":0.128},{"c":"Active","x":19.83,"y":0.134},{"c":"Active","x":20.37,"y":0.137},{"c":"Active","x":20.85,"y":0.131},{"c":"Active","x":21.53,"y":0.120},{"c":"Active","x":22.21,"y":0.114},{"c":"Active","x":22.89,"y":0.116},{"c":"Active","x":23.57,"y":0.112},{"c":"Active","x":24.25,"y":0.108},{"c":"Active","x":24.93,"y":0.109},{"c":"Active","x":25.61,"y":0.107},{"c":"Active","x":26.29,"y":0.100},{"c":"Active","x":26.97,"y":0.102},{"c":"Active","x":27.65,"y":0.104},{"c":"Active","x":28.33,"y":0.103},{"c":"Active","x":29.01,"y":0.104},{"c":"Active","x":29.69,"y":0.103},{"c":"Active","x":30.37,"y":0.100},{"c":"Active","x":31.05,"y":0.098},{"c":"Active","x":31.73,"y":0.097},{"c":"Active","x":32.41,"y":0.094},{"c":"Active","x":33.10,"y":0.093},{"c":"Active","x":33.78,"y":0.089},{"c":"Active","x":34.46,"y":0.099},{"c":"Active","x":35.14,"y":0.110},{"c":"Active","x":35.82,"y":0.107},{"c":"Active","x":36.50,"y":0.103},{"c":"Active","x":37.18,"y":0.100},{"c":"Active","x":37.86,"y":0.094},{"c":"Active","x":38.54,"y":0.092},{"c":"Active","x":39.22,"y":0.088},{"c":"Active","x":39.90,"y":0.085},{"c":"Active","x":40.58,"y":0.083},{"c":"Active","x":41.26,"y":0.082},{"c":"Active","x":41.94,"y":0.084},{"c":"Active","x":42.62,"y":0.083},{"c":"Active","x":43.30,"y":0.085},{"c":"Active","x":43.98,"y":0.085},{"c":"Active","x":44.66,"y":0.084},{"c":"Active","x":45.34,"y":0.083},{"c":"Active","x":45.68,"y":0.085}
]
},
"concat":[
 {"width":220,"height":136,"title":{"text":"Reference","dy":24},
  "layer":[
   {"data":{"name":"aRef"},
    "encoding":{
     "x":{"field":"x","type":"quantitative","scale":{"domain":[-0.153,1],"nice":false,"zero":false},"axis":{"values":[0,0.5,1],"format":"~g","title":"Time after stimulus onset (s)"}},
     "y":{"field":"y","type":"quantitative","scale":{"domain":[-1.55,1.55],"nice":false,"zero":false},"axis":{"values":[-1,0,1],"format":"~g","title":["Average","normalized ERP"],"labelPadding":20}}},
    "layer":[
     {"mark":{"type":"line","interpolate":"monotone","strokeCap":"round","strokeJoin":"round"},"encoding":{"detail":{"field":"c"},"color":{"condition":{"test":"datum.c=='Active'","value":"#dcdcdc"},"value":"#d2d2d2"},"strokeWidth":{"condition":{"test":"datum.c=='Active'","value":3.5},"value":6.5}}},
     {"transform":[{"filter":"datum.c!='Active'"}],"mark":{"type":"line","interpolate":"monotone","strokeWidth":2},"encoding":{"color":{"field":"c","type":"nominal","scale":{"domain":["Pre-passive","Active"],"range":["#bcbcbc","#000000"]},"legend":null}}},
     {"transform":[{"filter":"datum.c=='Active'"}],"mark":{"type":"line","interpolate":"monotone","strokeWidth":2},"encoding":{"color":{"field":"c","type":"nominal","scale":{"domain":["Pre-passive","Active"],"range":["#bcbcbc","#000000"]},"legend":null}}}
    ]},
   {"data":{"values":[{}]},"mark":{"type":"rule","color":"#000","strokeWidth":1},"encoding":{"y":{"datum":0}}},
   {"data":{"values":[{"s":"0.03"}]},"mark":{"type":"text","align":"right","baseline":"middle","color":"#b8b8b8"},"encoding":{"x":{"datum":0.96},"y":{"datum":1.276},"text":{"field":"s"}}},
   {"data":{"values":[{"s":"0.01"}]},"mark":{"type":"text","align":"right","baseline":"middle","color":"#000"},"encoding":{"x":{"datum":0.96},"y":{"datum":0.859},"text":{"field":"s"}}},
   {"data":{"values":[{"s":"a"}]},"mark":{"type":"text","align":"left","baseline":"alphabetic","fontSize":28},"encoding":{"x":{"datum":-0.703},"y":{"datum":1.53},"text":{"field":"s"}}}
  ]},
 {"width":220,"height":136,"title":{"text":"Target","dy":18},
  "layer":[
   {"data":{"name":"aTgt"},
    "encoding":{
     "x":{"field":"x","type":"quantitative","scale":{"domain":[-0.153,1],"nice":false,"zero":false},"axis":{"values":[0,0.5,1],"format":"~g","title":"Time after stimulus onset (s)"}},
     "y":{"field":"y","type":"quantitative","scale":{"domain":[-1.55,1.55],"nice":false,"zero":false},"axis":{"values":[-1,0,1],"labels":false,"title":null}}},
    "layer":[
     {"mark":{"type":"line","interpolate":"monotone","strokeCap":"round","strokeJoin":"round"},"encoding":{"detail":{"field":"c"},"color":{"condition":{"test":"datum.c=='Active'","value":"#dcdcdc"},"value":"#d2d2d2"},"strokeWidth":{"condition":{"test":"datum.c=='Active'","value":3.5},"value":6.5}}},
     {"transform":[{"filter":"datum.c!='Active'"}],"mark":{"type":"line","interpolate":"monotone","strokeWidth":2},"encoding":{"color":{"field":"c","type":"nominal","scale":{"domain":["Pre-passive","Active"],"range":["#bcbcbc","#000000"]},"legend":{"orient":"none","legendX":229,"legendY":-15,"title":null,"symbolType":"stroke","symbolSize":484,"symbolStrokeWidth":2.5,"labelFontSize":18,"labelOffset":6,"rowPadding":3,"padding":0,"labelColor":"#000"}}}},
     {"transform":[{"filter":"datum.c=='Active'"}],"mark":{"type":"line","interpolate":"monotone","strokeWidth":2},"encoding":{"color":{"field":"c","type":"nominal","scale":{"domain":["Pre-passive","Active"],"range":["#bcbcbc","#000000"]},"legend":{"orient":"none","legendX":229,"legendY":-15,"title":null,"symbolType":"stroke","symbolSize":484,"symbolStrokeWidth":2.5,"labelFontSize":18,"labelOffset":6,"rowPadding":3,"padding":0,"labelColor":"#000"}}}}
    ]},
   {"data":{"values":[{}]},"mark":{"type":"rule","color":"#000","strokeWidth":1},"encoding":{"y":{"datum":0}}},
   {"data":{"values":[{"s":"0.10"}]},"mark":{"type":"text","align":"right","baseline":"middle","color":"#b8b8b8"},"encoding":{"x":{"datum":1.0},"y":{"datum":1.276},"text":{"field":"s"}}},
   {"data":{"values":[{"s":"0.23"}]},"mark":{"type":"text","align":"right","baseline":"middle","color":"#000"},"encoding":{"x":{"datum":1.0},"y":{"datum":0.859},"text":{"field":"s"}}},
   {"data":{"values":[{"s":"n=362 sites"}]},"mark":{"type":"text","align":"left","baseline":"middle"},"encoding":{"x":{"datum":1.137},"y":{"datum":-0.19},"text":{"field":"s"}}}
  ]},
 {"width":220,"height":134,"title":{"text":"All trials","dy":32},
  "layer":[
   {"data":{"name":"bAll"},
    "encoding":{
     "x":{"field":"x","type":"quantitative","scale":{"domain":[3,47.5],"nice":false,"zero":false},"axis":{"values":[5,20,35],"format":"d","title":"LFP frequency (Hz)"}},
     "y":{"field":"y","type":"quantitative","scale":{"domain":[0.046,0.25],"nice":false,"zero":false},"axis":{"values":[0.1,0.15,0.2,0.25],"labelExpr":"datum.value==0.1||datum.value==0.2 ? format(datum.value,'.1f') : ''","title":["Average A1-FC","coherence"],"labelPadding":9,"titlePadding":7}}},
    "layer":[
     {"mark":{"type":"line","strokeCap":"round","strokeJoin":"round"},"encoding":{"detail":{"field":"c"},"color":{"condition":[{"test":"datum.c=='Active'","value":"#cfcfcf"},{"test":"datum.c=='Post-passive'","value":"#b3b3b3"}],"value":"#d6d6d6"},"strokeWidth":{"value":5}}},
     {"transform":[{"filter":"datum.c!='Active'"}],"mark":{"type":"line","strokeWidth":2},"encoding":{"color":{"field":"c","type":"nominal","scale":{"domain":["Pre-passive","Active","Post-passive"],"range":["#bcbcbc","#000000","#888888"]},"legend":null}}},
     {"transform":[{"filter":"datum.c=='Active'"}],"mark":{"type":"line","strokeWidth":1.8},"encoding":{"color":{"field":"c","type":"nominal","scale":{"domain":["Pre-passive","Active","Post-passive"],"range":["#bcbcbc","#000000","#888888"]},"legend":null}}}
    ]},
   {"data":{"values":[{"s":"b"}]},"mark":{"type":"text","align":"left","baseline":"alphabetic","fontSize":28},"encoding":{"x":{"datum":-18.24},"y":{"datum":0.2622},"text":{"field":"s"}}}
  ]},
 {"width":220,"height":134,"title":{"text":"First 10 trials only","dy":3},
  "layer":[
   {"data":{"name":"bFirst"},
    "encoding":{
     "x":{"field":"x","type":"quantitative","scale":{"domain":[3,47.5],"nice":false,"zero":false},"axis":{"values":[5,20,35],"format":"d","title":"LFP frequency (Hz)"}},
     "y":{"field":"y","type":"quantitative","scale":{"domain":[0.046,0.25],"nice":false,"zero":false},"axis":{"values":[0.1,0.15,0.2,0.25],"labels":false,"title":null}}},
    "layer":[
     {"mark":{"type":"line","strokeCap":"round","strokeJoin":"round"},"encoding":{"detail":{"field":"c"},"color":{"condition":[{"test":"datum.c=='Active'","value":"#cfcfcf"},{"test":"datum.c=='Post-passive'","value":"#b3b3b3"}],"value":"#d6d6d6"},"strokeWidth":{"value":5}}},
     {"transform":[{"filter":"datum.c!='Active'"}],"mark":{"type":"line","strokeWidth":2},"encoding":{"color":{"field":"c","type":"nominal","scale":{"domain":["Pre-passive","Active","Post-passive"],"range":["#bcbcbc","#000000","#888888"]},"legend":{"orient":"none","legendX":229,"legendY":-2,"title":null,"symbolType":"stroke","symbolSize":484,"symbolStrokeWidth":2.5,"labelFontSize":18,"labelOffset":6,"rowPadding":5,"padding":0,"labelColor":"#000"}}}},
     {"transform":[{"filter":"datum.c=='Active'"}],"mark":{"type":"line","strokeWidth":1.8},"encoding":{"color":{"field":"c","type":"nominal","scale":{"domain":["Pre-passive","Active","Post-passive"],"range":["#bcbcbc","#000000","#888888"]},"legend":{"orient":"none","legendX":229,"legendY":-2,"title":null,"symbolType":"stroke","symbolSize":484,"symbolStrokeWidth":2.5,"labelFontSize":18,"labelOffset":6,"rowPadding":5,"padding":0,"labelColor":"#000"}}}}
    ]},
   {"data":{"values":[{"s":"n=339 pairs"}]},"mark":{"type":"text","align":"left","baseline":"middle"},"encoding":{"x":{"datum":53.97},"y":{"datum":0.0876},"text":{"field":"s"}}}
  ]},
 {"width":220,"height":134,"title":{"text":"A1 sites near target","dy":30},
  "layer":[
   {"data":{"name":"cNear"},
    "encoding":{
     "x":{"field":"x","type":"quantitative","scale":{"domain":[3,47.5],"nice":false,"zero":false},"axis":{"values":[5,20,35],"format":"d","title":"LFP frequency (Hz)"}},
     "y":{"field":"y","type":"quantitative","scale":{"domain":[0.046,0.25],"nice":false,"zero":false},"axis":{"values":[0.1,0.15,0.2,0.25],"labelExpr":"datum.value==0.1||datum.value==0.2 ? format(datum.value,'.1f') : ''","title":["Average A1-FC","coherence"],"labelPadding":9,"titlePadding":7}}},
    "layer":[
     {"mark":{"type":"line","strokeCap":"round","strokeJoin":"round"},"encoding":{"detail":{"field":"c"},"color":{"condition":{"test":"datum.c=='Active'","value":"#c8c8c8"},"value":"#d6d6d6"},"strokeWidth":{"condition":{"test":"datum.c=='Active'","value":8},"value":7}}},
     {"transform":[{"filter":"datum.c!='Active'"}],"mark":{"type":"line","strokeWidth":2},"encoding":{"color":{"field":"c","type":"nominal","scale":{"domain":["Pre-passive","Active"],"range":["#bcbcbc","#000000"]},"legend":null}}},
     {"transform":[{"filter":"datum.c=='Active'"}],"mark":{"type":"line","strokeWidth":1.8},"encoding":{"color":{"field":"c","type":"nominal","scale":{"domain":["Pre-passive","Active"],"range":["#bcbcbc","#000000"]},"legend":null}}}
    ]},
   {"data":{"values":[{"s":"c"}]},"mark":{"type":"text","align":"left","baseline":"alphabetic","fontSize":26,"fontWeight":"bold"},"encoding":{"x":{"datum":-18.24},"y":{"datum":0.2591},"text":{"field":"s"}}}
  ]},
 {"width":220,"height":134,"title":{"text":"A1 sites far from target","dy":4},
  "layer":[
   {"data":{"name":"cFar"},
    "encoding":{
     "x":{"field":"x","type":"quantitative","scale":{"domain":[3,47.5],"nice":false,"zero":false},"axis":{"values":[5,20,35],"format":"d","title":"LFP frequency (Hz)"}},
     "y":{"field":"y","type":"quantitative","scale":{"domain":[0.046,0.25],"nice":false,"zero":false},"axis":{"values":[0.1,0.15,0.2,0.25],"labels":false,"title":null}}},
    "layer":[
     {"mark":{"type":"line","strokeCap":"round","strokeJoin":"round"},"encoding":{"detail":{"field":"c"},"color":{"condition":{"test":"datum.c=='Active'","value":"#c8c8c8"},"value":"#d6d6d6"},"strokeWidth":{"condition":{"test":"datum.c=='Active'","value":14},"value":7}}},
     {"transform":[{"filter":"datum.c!='Active'"}],"mark":{"type":"line","strokeWidth":2},"encoding":{"color":{"field":"c","type":"nominal","scale":{"domain":["Pre-passive","Active"],"range":["#bcbcbc","#000000"]},"legend":null}}},
     {"transform":[{"filter":"datum.c=='Active'"}],"mark":{"type":"line","strokeWidth":1.8},"encoding":{"color":{"field":"c","type":"nominal","scale":{"domain":["Pre-passive","Active"],"range":["#bcbcbc","#000000"]},"legend":null}}}
    ]},
   {"data":{"values":[{"s":"n=102 pairs\nrecorded under\ntwo target conditions"}]},"mark":{"type":"text","align":"left","baseline":"middle","lineBreak":"\n","lineHeight":21.7},"encoding":{"x":{"datum":48.98},"y":{"datum":0.142},"text":{"field":"s"}}}
  ]}
]
}
